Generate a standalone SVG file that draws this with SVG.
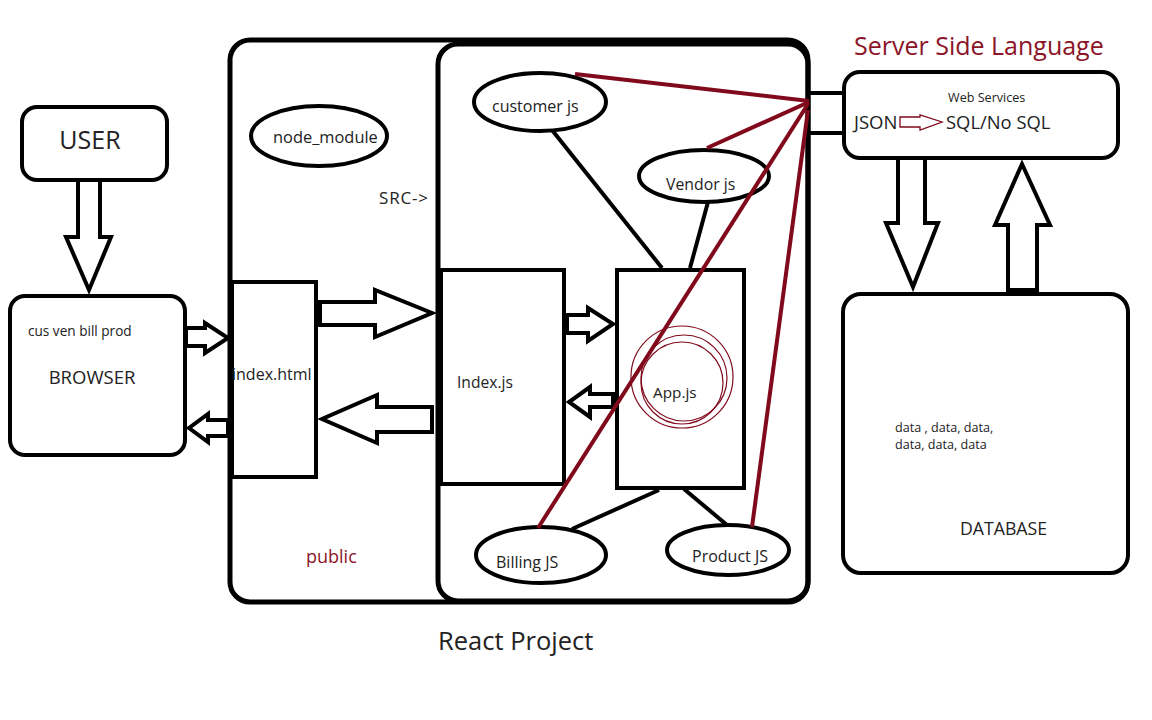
<svg xmlns="http://www.w3.org/2000/svg" width="1152" height="720" viewBox="0 0 1152 720">
<style>
.box{fill:#fff;stroke:#000;stroke-width:4}
.thick{fill:none;stroke:#000;stroke-width:5}
.arr{fill:#fff;stroke:#000;stroke-width:4;stroke-linejoin:miter}
.ln{stroke:#000;stroke-width:4;fill:none}
.red{stroke:#800a1c;stroke-width:4;fill:none}
.ring{stroke:#800a1c;stroke-width:1.2;fill:none}
text{font-family:"Open Sans","Noto Sans","DejaVu Sans",sans-serif;fill:#222}
.rt{fill:#8b1427}
</style>
<rect width="1152" height="720" fill="#fff"/>

<g id="react-project">
  <rect x="230" y="40" width="578" height="562" rx="20" class="thick"/>
  <rect x="438" y="44" width="370" height="557" rx="20" class="thick"/>
  <text x="438" y="650" font-size="25.5">React Project</text>
  <text x="306" y="563" font-size="18" class="rt">public</text>
  <text x="379" y="204" font-size="17" textLength="49" lengthAdjust="spacing">SRC-&gt;</text>
</g>

<g id="user">
  <rect x="22" y="107" width="145" height="73" rx="15" class="box"/>
  <text x="90" y="149" font-size="25" text-anchor="middle">USER</text>
</g>

<g id="browser">
  <rect x="10" y="296" width="175" height="159" rx="15" class="box"/>
  <text x="28" y="336" font-size="13.6">cus ven bill prod</text>
  <text x="92" y="384" font-size="18.5" text-anchor="middle">BROWSER</text>
</g>

<g id="node_module">
  <ellipse cx="319" cy="136" rx="68" ry="30" class="box"/>
  <text x="273" y="143" font-size="16.4">node_module</text>
</g>

<g id="index-html">
  <rect x="232" y="282" width="84" height="195" class="box"/>
  <text x="232" y="380" font-size="16">index.html</text>
</g>

<g id="index-js">
  <rect x="441" y="270" width="123" height="214" class="box"/>
  <text x="457" y="388" font-size="15.6">Index.js</text>
</g>

<g id="connectors">
  <line x1="552" y1="130" x2="662" y2="268" class="ln"/>
  <line x1="708" y1="202" x2="690" y2="268" class="ln"/>
  <line x1="659" y1="490" x2="572" y2="529" class="ln"/>
  <line x1="684" y1="489" x2="727" y2="525" class="ln"/>
  <line x1="808" y1="93" x2="844" y2="93" class="ln"/>
  <line x1="808" y1="133" x2="844" y2="133" class="ln"/>
  <polygon class="arr" points="78,180 100,180 100,237 111,237 89,290 66,237 78,237"/>
  <polygon class="arr" points="186,328 205,328 205,323 228,338 205,353 205,346 186,346"/>
  <polygon class="arr" points="228,420 208,420 208,414 189,428 208,442 208,436 228,436"/>
  <polygon class="arr" points="320,302 375,302 375,290 432,313 375,337 375,325 320,325"/>
  <polygon class="arr" points="432,407 377,407 377,395 322,419 377,443 377,432 432,432"/>
  <polygon class="arr" points="567,315 588,315 588,308 613,324 588,341 588,333 567,333"/>
  <polygon class="arr" points="613,394 590,394 590,387 569,402 590,417 590,407 613,407"/>
  <polygon class="arr" points="898,158 925,158 925,223 938,223 913,287 886,223 898,223"/>
  <polygon class="arr" points="1008,290 1037,290 1037,225 1050,225 1022,164 995,225 1008,225"/>
</g>

<g id="app-js">
  <rect x="617" y="270" width="127" height="218" class="box"/>
  <circle cx="682" cy="377" r="51" class="ring"/>
  <circle cx="684" cy="378" r="43" class="ring"/>
  <circle cx="682" cy="383" r="41" class="ring"/>
  <text x="653" y="398" font-size="15.3">App.js</text>
</g>

<g id="customer-js">
  <ellipse cx="540" cy="102" rx="66" ry="29" class="box"/>
  <text x="492" y="112" font-size="16">customer js</text>
</g>

<g id="vendor-js">
  <ellipse cx="704" cy="176" rx="65" ry="26" class="box"/>
  <text x="666" y="190" font-size="15.8">Vendor js</text>
</g>

<g id="billing-js">
  <ellipse cx="541" cy="555" rx="65" ry="28" class="box"/>
  <text x="496" y="568" font-size="16">Billing JS</text>
</g>

<g id="product-js">
  <ellipse cx="728" cy="550" rx="61" ry="25" class="box"/>
  <text x="692" y="562" font-size="16">Product JS</text>
</g>

<g id="red-links">
  <line x1="575" y1="74" x2="809" y2="101" class="red"/>
  <line x1="707" y1="148" x2="809" y2="102" class="red"/>
  <line x1="808" y1="104" x2="538" y2="528" class="red"/>
  <line x1="808" y1="110" x2="752" y2="527" class="red"/>
</g>

<g id="web-services">
  <text x="854" y="55" font-size="25" class="rt">Server Side Language</text>
  <rect x="844" y="72" width="274" height="86" rx="16" class="box"/>
  <text x="948" y="102" font-size="12.6">Web Services</text>
  <text x="854" y="129" font-size="18.5">JSON</text>
  <polygon points="900,117 920,117 920,115 942,122 920,130 920,127 900,127" fill="#fff" stroke="#800a1c" stroke-width="1.3"/>
  <text x="946" y="129" font-size="18.4">SQL/No SQL</text>
</g>

<g id="database">
  <rect x="843" y="294" width="285" height="279" rx="18" class="box"/>
  <text x="895" y="432" font-size="12.6">data , data, data,</text>
  <text x="895" y="449" font-size="12.6">data, data, data</text>
  <text x="960" y="535" font-size="17.7">DATABASE</text>
</g>
</svg>
